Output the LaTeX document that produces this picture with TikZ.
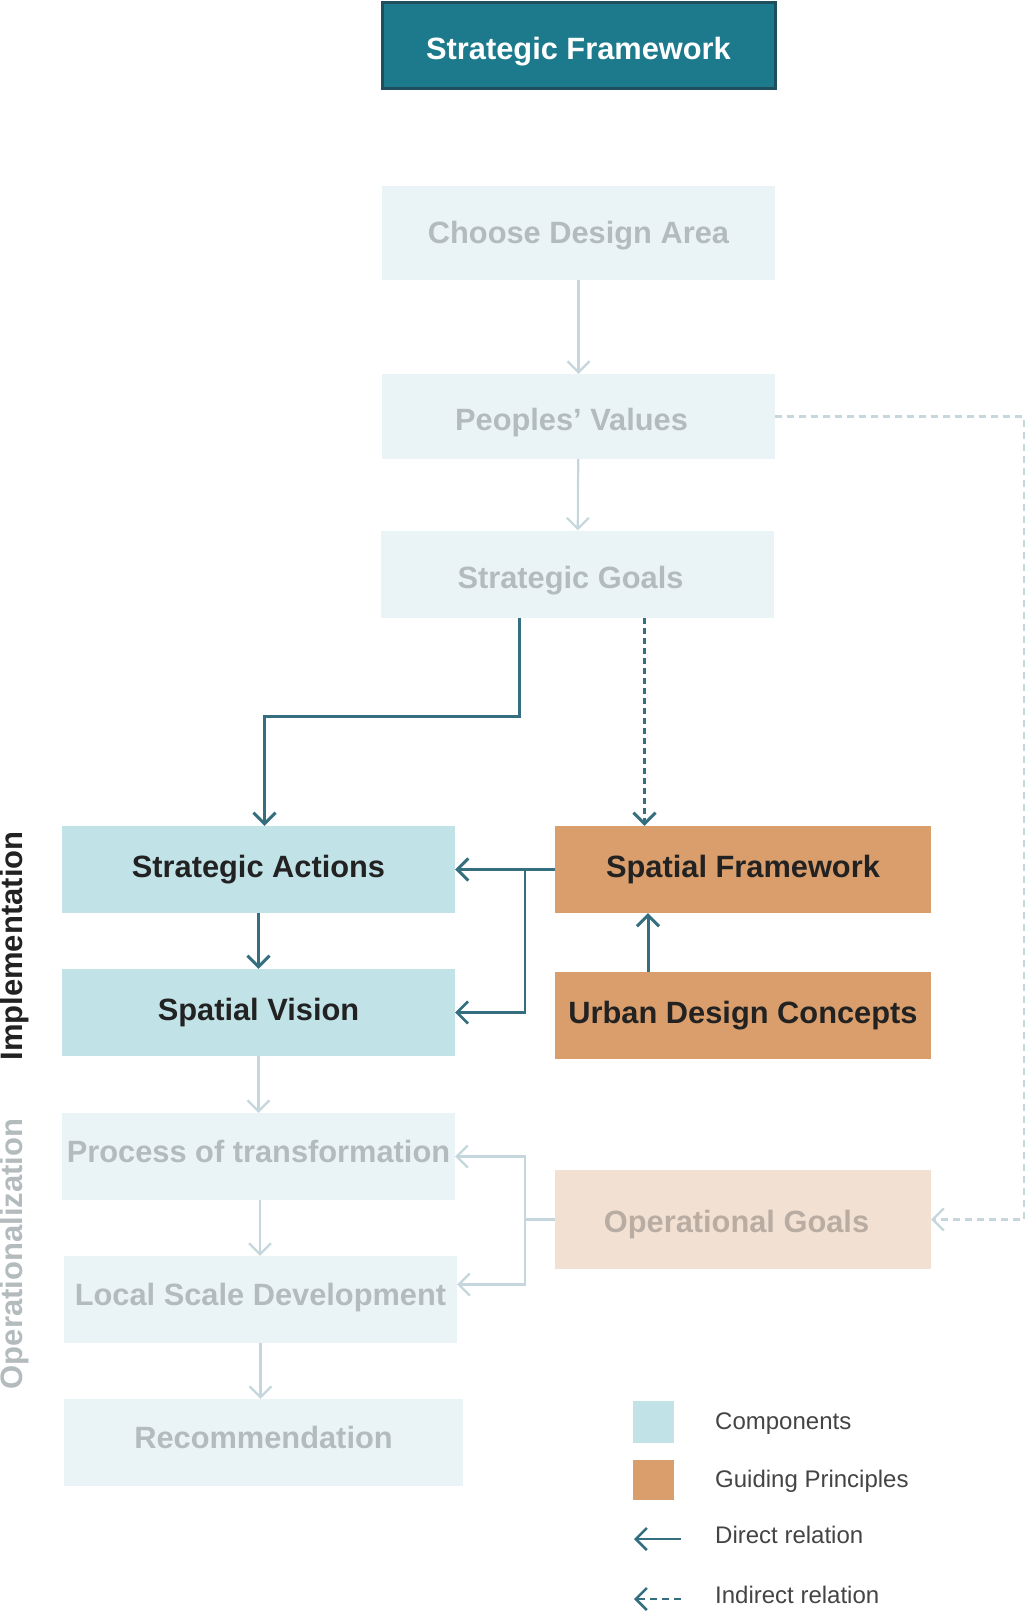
\documentclass[tikz,border=0pt]{standalone}
\usepackage{fontspec}
\setmainfont{Liberation Sans}
\usetikzlibrary{arrows.meta,positioning}

\definecolor{headfill}{HTML}{1C7A8C}
\definecolor{headline}{HTML}{1F4E5E}
\definecolor{compfill}{HTML}{C1E3E8}
\definecolor{guidefill}{HTML}{D99E6B}
\definecolor{fadefill}{HTML}{EAF4F6}
\definecolor{fadetext}{HTML}{B3BBBD}
\definecolor{fadeguide}{HTML}{F2E1D3}
\definecolor{fadeguidetext}{HTML}{B9ADA3}
\definecolor{darkline}{HTML}{356E7E}
\definecolor{lightline}{HTML}{C5D6DC}
\definecolor{boxtext}{HTML}{222222}
\definecolor{legendtext}{HTML}{444444}

\begin{document}
\begin{tikzpicture}[x=1pt, y=-1pt,
    box/.style={inner sep=0pt, minimum width=393pt, minimum height=87pt,
      font=\fontsize{30.8}{36}\selectfont\bfseries, text=boxtext},
    comp/.style={box, fill=compfill},
    guide/.style={box, fill=guidefill, minimum width=376pt},
    faded/.style={box, fill=fadefill, text=fadetext},
    fadedguide/.style={box, fill=fadeguide, text=fadeguidetext, minimum width=376pt},
    drop/.style={text height=#1, text depth=0pt},
    direct/.style={draw=darkline, line width=3pt, -{Straight Barb[length=11pt,width=22pt]}},
    weak/.style={draw=lightline, line width=2.2pt, -{Straight Barb[length=11pt,width=22pt]}},
    legend/.style={anchor=west, inner sep=0pt, font=\fontsize{24}{28}\selectfont, text=legendtext},
    side/.style={rotate=90, inner sep=0pt, font=\fontsize{31}{36}\selectfont\bfseries}]
    \useasboundingbox (0,0) rectangle (1029,1613);

    % Nodes
    \node[box, fill=headfill, draw=headline, line width=3pt, text=white, minimum height=86pt, drop=27pt] (head) at (578.5,46) {Strategic Framework};
    \node[faded, minimum height=94pt, drop=21pt] (choose) at (578.5,233) {Choose Design Area};
    \node[faded, minimum height=85pt, drop=27pt] (values) at (578.5,416.5) {Peoples’ Values\hspace*{14pt}};
    \node[faded, drop=28pt] (goals) at (577.5,574) {Strategic Goals\hspace*{14pt}};
    \node[comp] (actions) at (258.5,869.5) {Strategic Actions};
    \node[comp] (vision) at (258.5,1012.5) {Spatial Vision};
    \node[guide] (framework) at (743,869.5) {Spatial Framework};
    \node[guide] (concepts) at (743,1015.5) {Urban Design Concepts};
    \node[faded, drop=11pt] (process) at (258.5,1156.5) {Process of transformation};
    \node[fadedguide, minimum height=99pt, drop=25pt] (opgoals) at (743,1219.5) {Operational Goals\hspace*{13pt}};
    \node[faded, drop=11pt] (local) at (260.5,1299.5) {Local Scale Development};
    \node[faded, minimum width=399pt, drop=12pt] (recommend) at (263.5,1442.5) {Recommendation};

    \node[side, text=boxtext] (impl) at (14,946) {Implementation};
    \node[side, text=fadetext] (oper) at (14,1254) {Operationalization};

    % Arrows
    \draw[weak] (choose) -- (values);
    \draw[weak] (values) -- (goals);
    \draw[direct] ([xshift=-58pt]goals.south) -- ++(0,99) -| ([xshift=6pt]actions.north);
    \draw[direct, dash pattern=on 6pt off 4pt] ([xshift=67pt]goals.south) -- ([xshift=67pt]goals.south |- framework.north);
    \coordinate (fork) at (actions.east -| 525,0);
    \draw[direct] (framework.west) -- (actions.east);
    \draw[direct, line width=2.6pt] (fork) |- (vision.east);
    \draw[direct] ([xshift=-95pt]concepts.north) -- ([xshift=-95pt]framework.south);
    \draw[direct] (actions) -- (vision);
    \draw[weak] (vision) -- (process);
    \draw[weak] ([xshift=1.5pt]process.south) -- ([xshift=1.5pt]process.south |- local.north);
    \draw[weak] (local.south) -- (local.south |- recommend.north);

    % Operational links
    \coordinate (opfork) at (opgoals.west -| 525,0);
    \draw[weak, -] (opgoals.west) -- (opfork);
    \draw[weak] (opfork) |- (process.east);
    \draw[weak] (opfork) |- ([yshift=15pt]local.east);
    \draw[weak, dash pattern=on 7pt off 5pt] (values.east) -- ++(249,0) |- (opgoals.east);

    % Legend
    \node[fill=compfill, minimum width=41pt, minimum height=42pt, inner sep=0pt] (keycomp) at (653.5,1422) {};
    \node[fill=guidefill, minimum width=41pt, minimum height=40pt, inner sep=0pt] (keyguide) at (653.5,1480) {};
    \coordinate (dirA) at (681,1539);
    \coordinate (dirB) at (634,1539);
    \coordinate (indA) at (681,1599);
    \coordinate (indB) at (634,1599);
    \draw[direct, line width=2.6pt] (dirA) -- (dirB);
    \draw[direct, line width=2.6pt, dash pattern=on 7pt off 5pt] (indA) -- (indB);
    \node[legend] (keycomptext) at (715,1424) {Components};
    \node[legend] (keyguidetext) at (715,1481) {Guiding Principles};
    \node[legend] (dirtext) at (715,1535) {Direct relation};
    \node[legend] (indtext) at (715,1595) {Indirect relation};
\end{tikzpicture}
\end{document}
